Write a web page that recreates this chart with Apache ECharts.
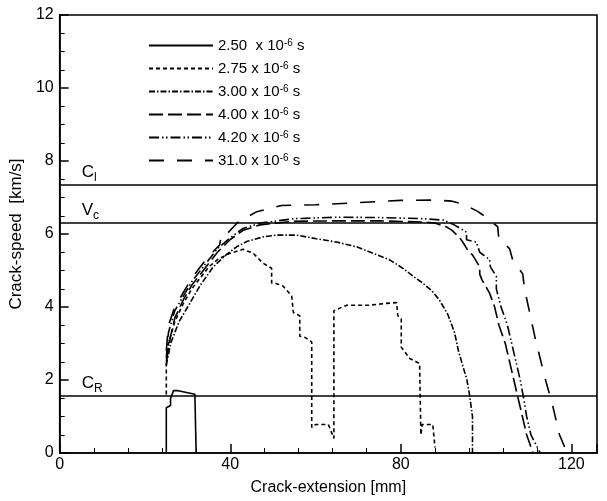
<!DOCTYPE html>
<html>
<head>
<meta charset="utf-8">
<script src="https://cdn.jsdelivr.net/npm/echarts@6/dist/echarts.min.js"></script>
<style>
  html, body { margin: 0; padding: 0; background: #fff; }
  #chart { width: 607px; height: 501px; }
</style>
</head>
<body>
<div id="chart"></div>
<script>
// Crack-speed histories [crack extension mm, speed km/s] at several times (x 10^-6 s)
const t250 = [[25,0],[25,1.24],[26,1.3],[26,1.5],[26.7,1.71],[27.5,1.71],[31.7,1.61],[32,1.6],[32,0]];
const t275 = [[25,1.6],[25,2.5],[25.5,3.0],[27,3.6],[29,4.1],[31,4.5],[33,4.8],[35,5.1],[37,5.3],[39.9,5.47],[43,5.58],[45.4,5.47],[47.7,5.2],[49.7,5.06],[49.7,4.66],[50.9,4.64],[52.4,4.57],[54.4,4.3],[54.8,3.85],[56.3,3.76],[56.3,3.2],[57.5,3.17],[59.1,3.04],[59.1,0.7],[60,0.78],[63,0.78],[64.3,0.4],[64.3,3.9],[67.3,4.05],[72.7,4.05],[76.6,4.1],[79,4.12],[79.3,3.76],[80.1,3.67],[80.1,2.9],[82.1,2.59],[84.4,2.45],[84.7,0.5],[85,0.78],[87.5,0.78],[88,0.15]];
const t300 = [[25,2.4],[26,3.0],[28,3.6],[30,4.0],[33,4.6],[36,5.1],[39.2,5.45],[41.5,5.65],[44,5.8],[47.7,5.92],[51,5.97],[55.5,5.97],[60.2,5.87],[64.9,5.78],[69.6,5.65],[73.5,5.47],[77.4,5.29],[80.5,5.06],[82.9,4.84],[85.1,4.66],[87.2,4.45],[89,4.2],[91,3.8],[92.6,3.3],[93.5,2.8],[94.5,2.4],[95.5,2.0],[96.1,1.6],[96.8,1.0],[96.8,0]];
const t400 = [[25,2.5],[26,3.2],[27,3.7],[29,4.2],[31,4.6],[33,4.9],[35,5.2],[37,5.5],[40,5.85],[43,6.1],[47,6.25],[55,6.35],[65,6.36],[75,6.36],[85,6.33],[88,6.3],[90.8,6.19],[92,6.1],[93.8,5.9],[94.5,5.78],[96,5.5],[96.8,5.43],[98.5,5.1],[98.5,4.9],[99,4.75],[100.8,4.38],[102,4.0],[103,3.5],[104.5,3.0],[105.5,2.5],[106.5,2.0],[107.5,1.5],[108.5,1.0],[109.5,0.5],[111,0]];
const t420 = [[25,2.6],[25.5,3.3],[27,3.9],[29,4.3],[31,4.7],[33,5.0],[35,5.3],[37,5.6],[40,5.9],[43,6.15],[47,6.3],[55,6.42],[65,6.46],[75,6.45],[85,6.42],[90,6.38],[92.2,6.27],[95.4,6.05],[95.4,5.84],[97.7,5.78],[98.5,5.5],[100.8,5.3],[101,5.1],[102.4,4.84],[102.4,4.49],[103.5,4.0],[105,3.5],[106,3.0],[107,2.5],[108,2.0],[108.8,1.5],[109.5,1.0],[110.5,0.5],[112.7,0]];
const t310 = [[25,2.8],[25.5,3.5],[27,4.0],[29,4.4],[31,4.8],[33,5.1],[35,5.4],[37.5,5.7],[38,6.0],[39.2,6.0],[41.6,6.3],[43,6.4],[46,6.6],[48,6.66],[52,6.78],[60,6.8],[70,6.86],[80,6.92],[88,6.93],[92,6.9],[95,6.8],[98,6.62],[100,6.46],[102.7,6.2],[103,5.86],[105.5,5.6],[106.2,5.3],[108.6,4.9],[109,4.5],[111.4,3.2],[113.7,2.1],[115.6,1.3],[117.2,0.5],[119,0]];

// Reference wave speeds [km/s]
const speedCl = 7.35;
const speedVc = 6.32;
const speedCR = 1.58;

const seriesNames = ['2.50', '2.75', '3.00', '4.00', '4.20', '31.0'];
const seriesData = [t250, t275, t300, t400, t420, t310];
const dashTypes = ['solid', [4, 3], [6, 2, 1.5, 2], [14, 5], [10, 3, 1.5, 2.5, 1.5, 3], [15, 13]];

const xTicks = { min: 0, max: 126, interval: 40 };
const yTicks = { min: 0, max: 12, interval: 2 };

const font = 'Liberation Sans, Arial, sans-serif';
const chart = echarts.init(document.getElementById('chart'), null, { renderer: 'canvas' });

const lineSeries = seriesNames.map((name, i) => ({
  name: name,
  type: 'line',
  data: seriesData[i],
  showSymbol: false,
  symbol: 'none',
  animation: false,
  lineStyle: { color: '#000', width: 1.6, type: dashTypes[i] },
  itemStyle: { color: '#000' }
}));

function refLine(value, main, sub) {
  return {
    yAxis: value,
    label: {
      show: true,
      position: 'insideStartTop',
      distance: [22, 4],
      formatter: '{m|' + main + '}{s|' + sub + '}',
      rich: {
        m: { fontFamily: font, fontSize: 17, color: '#000', verticalAlign: 'bottom' },
        s: { fontFamily: font, fontSize: 12, color: '#000', verticalAlign: 'bottom', padding: [0, 0, -3, 0] }
      }
    }
  };
}

lineSeries.push({
  name: 'ref',
  type: 'line',
  data: [],
  animation: false,
  markLine: {
    silent: true,
    symbol: 'none',
    animation: false,
    lineStyle: { color: '#000', width: 1.6, type: 'solid' },
    data: [refLine(speedCl, 'C', 'l'), refLine(speedVc, 'V', 'c'), refLine(speedCR, 'C', 'R')]
  }
});

chart.setOption({
  backgroundColor: '#fff',
  animation: false,
  grid: { left: 59.5, right: 10, top: 15, bottom: 42, show: true, borderColor: '#000', borderWidth: 1.6, backgroundColor: 'transparent' },
  legend: {
    data: seriesNames,
    orient: 'vertical',
    left: 143,
    top: 33,
    itemWidth: 64,
    itemHeight: 14,
    itemGap: 8,
    itemStyle: { opacity: 0, borderWidth: 0 },
    textStyle: {
      fontFamily: font,
      fontSize: 15,
      color: '#000',
      rich: {
        t: { fontFamily: font, fontSize: 15, color: '#000', verticalAlign: 'bottom' },
        s: { fontFamily: font, fontSize: 10, color: '#000', verticalAlign: 'top' }
      }
    },
    formatter: name => '{t|' + name + (name === '2.50' ? '  ' : ' ') + 'x 10}{s|-6}{t| s}'
  },
  xAxis: {
    type: 'value',
    min: xTicks.min,
    max: xTicks.max,
    interval: xTicks.interval,
    name: 'Crack-extension [mm]',
    nameLocation: 'middle',
    nameGap: 27,
    nameTextStyle: { fontFamily: font, fontSize: 16, color: '#000' },
    axisLine: { lineStyle: { color: '#000', width: 1.6 } },
    axisTick: { inside: true, length: 9, lineStyle: { color: '#000', width: 1.5 } },
    minorTick: { show: true, splitNumber: 5, length: 5, lineStyle: { color: '#000', width: 1 } },
    axisLabel: { fontFamily: font, fontSize: 16, color: '#000', margin: 4, showMaxLabel: false },
    splitLine: { show: false }
  },
  yAxis: {
    type: 'value',
    min: yTicks.min,
    max: yTicks.max,
    interval: yTicks.interval,
    name: 'Crack-speed  [km/s]',
    nameLocation: 'middle',
    nameGap: 29,
    nameTextStyle: { fontFamily: font, fontSize: 17, color: '#000' },
    axisLine: { lineStyle: { color: '#000', width: 1.6 } },
    axisTick: { inside: true, length: 9, lineStyle: { color: '#000', width: 1.5 } },
    minorTick: { show: true, splitNumber: 4, length: 5, lineStyle: { color: '#000', width: 1 } },
    axisLabel: { fontFamily: font, fontSize: 16, color: '#000', margin: 6 },
    splitLine: { show: false }
  },
  series: lineSeries
});
</script>
</body>
</html>
